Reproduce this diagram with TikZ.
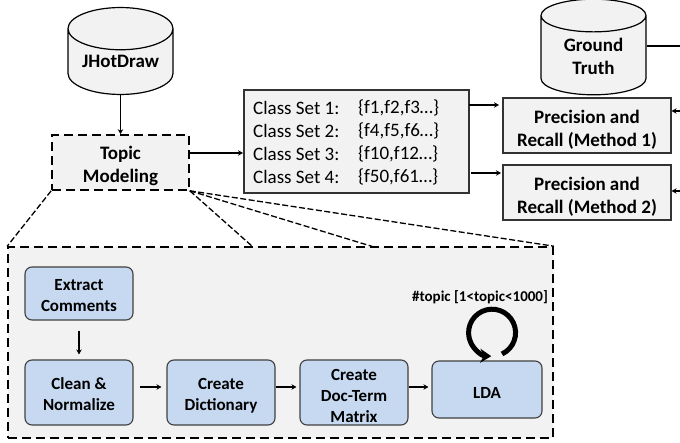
\documentclass[tikz,border=0pt]{standalone}
\usepackage{fontspec}
\setmainfont{Carlito}
\usetikzlibrary{arrows.meta,shapes.geometric}
\definecolor{boxgray}{HTML}{F2F2F2}
\definecolor{stepblue}{HTML}{C6D9F1}
\newcommand{\lowtext}[2]{\raisebox{-#1}[\height][\depth]{\begin{tabular}{@{}c@{}}#2\end{tabular}}}
\tikzset{
  db/.style={cylinder, shape border rotate=90, aspect=0.55, draw, line width=1.2pt, fill=boxgray, anchor=shape center,
    minimum width=105pt, minimum height=84pt, inner sep=0pt, font=\fontsize{19}{23}\bfseries},
  result/.style={draw=black!80, line width=1.2pt, fill=boxgray, minimum width=168pt, minimum height=55pt,
    inner sep=0pt, font=\fontsize{19}{23}\bfseries},
  stepbox/.style={draw=black!75, line width=1.1pt, fill=stepblue, rounded corners=7pt, minimum width=108pt,
    minimum height=65pt, inner sep=0pt, font=\fontsize{17}{21}\bfseries},
  dashbox/.style={draw, line width=1.6pt, dash pattern=on 9pt off 5pt, fill=boxgray, inner sep=0pt},
  zoomline/.style={line width=1.3pt, dash pattern=on 6pt off 2.5pt},
  conn/.style={line width=1.5pt, -{Stealth[length=5pt,width=5.5pt]}},
}
\begin{document}
\begin{tikzpicture}[x=1pt, y=-1pt]
  \useasboundingbox (0,0) rectangle (680,443);
  % top row
  \node[db] (jhotdraw) at (120.5,51) {\lowtext{1pt}{JHotDraw}};
  \node[db] (truth) at (593.5,47) {\lowtext{3pt}{Ground\\Truth}};
  \node[dashbox, minimum width=137pt, minimum height=55pt, font=\fontsize{19}{23}\bfseries] (topic) at (120.5,162.5) {\lowtext{4pt}{Topic\\Modeling}};
  \node[draw=black!80, line width=1.2pt, fill=boxgray, minimum width=225pt, minimum height=103pt, inner sep=0pt] (classes) at (356.5,141.5) {};
  \node[anchor=west, inner sep=0pt, font=\fontsize{19}{23}\selectfont, align=left] (names) at (253,142.5) {Class Set 1:\\Class Set 2:\\Class Set 3:\\Class Set 4:};
  \node[anchor=west, inner sep=0pt, font=\fontsize{19}{23}\selectfont, align=left] (sets) at (358,142.5) {\{f1,f2,f3…\}\\\{f4,f5,f6…\}\\\{f10,f12…\}\\\{f50,f61…\}};
  \node[result] (prec1) at (587,125.5) {\lowtext{4.5pt}{Precision and\\Recall (Method 1)}};
  \node[result] (prec2) at (587,192.5) {\lowtext{4.5pt}{Precision and\\Recall (Method 2)}};
  % zoomed part
  \node[dashbox, minimum width=545pt, minimum height=191pt] (detail) at (280.5,342.5) {};
  \node[stepbox, minimum height=53pt] (extract) at (79,293.5) {\lowtext{3pt}{Extract\\Comments}};
  \node[stepbox] (clean) at (79,392.5) {\lowtext{3.5pt}{Clean \&\\Normalize}};
  \node[stepbox] (dict) at (221,392.5) {\lowtext{3.5pt}{Create\\Dictionary}};
  \node[stepbox] (matrix) at (354,392.5) {\lowtext{4.5pt}{Create\\Doc-Term\\Matrix}};
  \node[stepbox, minimum width=110pt, minimum height=57pt] (lda) at (487,389.5) {\lowtext{5pt}{LDA}};
  \node[inner sep=0pt, font=\fontsize{15}{18}\bfseries] (looplabel) at (480,297.5) {\#topic [1<topic<1000]};
  % connectors
  \draw[conn] (jhotdraw.south) -- (topic.north);
  \coordinate (topicout) at (189,153);
  \coordinate (classin) at (243,153);
  \draw[conn] (topicout) -- (classin);
  \coordinate (classout1) at (469,105);
  \coordinate (classout2) at (471,173);
  \coordinate (precin1) at (499,105);
  \coordinate (precin2) at (501,173);
  \draw[conn] (classout1) -- (precin1);
  \draw[conn] (classout2) -- (precin2);
  \draw[conn] ([yshift=-10pt]extract.south) -- ([yshift=5pt]clean.north);
  \draw[conn] ([xshift=6pt,yshift=5.5pt]clean.east) -- ([xshift=-5pt,yshift=5.5pt]dict.west);
  \draw[conn] ([yshift=5.5pt]dict.east) -- ([xshift=-3pt,yshift=5.5pt]matrix.west);
  \draw[conn] ([yshift=5.5pt]matrix.east) -- ([xshift=-3pt,yshift=5.5pt]matrix.east -| lda.west);
  % ground truth runs off the right edge
  \coordinate (edge1) at (680,46);
  \coordinate (edge2) at (680,111);
  \coordinate (edge3) at (680,191);
  \draw[line width=1.4pt] (truth.east |- edge1) -- (edge1);
  \draw[conn] (edge2) -- (prec1.east |- edge2);
  \draw[conn] (edge3) -- (prec2.east |- edge3);
  % dashed lines towards the detail box
  \draw[zoomline] (topic.south west) -- (detail.north west);
  \draw[zoomline] (topic.south east) -- (253,247);
  \draw[zoomline] (topic.south east) -- (374,247);
  \draw[zoomline] (topic.south east) -- (detail.north east);
  % loop
  \coordinate (loopstart) at (502,354);
  \draw[line width=5pt, -{Stealth[length=11pt,width=14pt]}] (loopstart) arc[start angle=65, end angle=-268, radius=23.5];
\end{tikzpicture}
\end{document}
